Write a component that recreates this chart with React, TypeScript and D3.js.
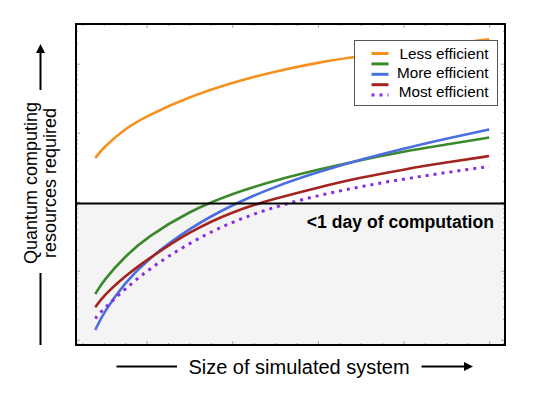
import React, { useEffect, useRef } from "react";
import * as d3 from "d3";

// size of simulated system (x) and resources required (log y)
const sizes = [8, 10, 15, 20, 30, 40, 50, 60, 70, 80, 90, 100];
const lessEfficient = [430, 621, 1151, 1746, 3325, 5340, 7762, 10400, 13010, 15640, 18850, 22650];
const greenVariant = [4.6, 7.3, 16.3, 30.3, 73.3, 131.5, 203.6, 291, 402, 535.6, 674.5, 851];
const moreEfficient = [1.38, 2.52, 6.75, 14.3, 41.6, 90.8, 166, 269, 409, 590, 824, 1112];
const redVariant = [2.95, 4.37, 8.38, 14.3, 37.0, 72.1, 111.3, 160.6, 224.3, 292.9, 370, 459];
const mostEfficient = [2.03, 2.83, 5.43, 10.07, 25.6, 51.6, 84.7, 123, 166, 213.3, 265, 324];

const seriesColors = ["#f5911f", "#3a8a2c", "#4a6ee0", "#a3231f", "#8a2be2"];
const legendLabels = ["Less efficient", "More efficient", "Most efficient"];
const oneDay = 94; // threshold: <1 day of computation

const xMajor = [20, 40, 60, 80, 100];
const yMajor = [1, 10, 100, 1000, 10000];

const font = "'Liberation Sans', Arial, Helvetica, sans-serif";

const App = () => {
    const ref = useRef<SVGSVGElement>(null);

    useEffect(() => {
        const width = 550;
        const height = 407;
        const left = 76, right = 505, top = 24, bottom = 345;

        const svg = d3.select(ref.current);
        svg.selectAll("*").remove();
        svg.attr("width", width).attr("height", height);

        const x = d3.scaleLinear().domain([3.5, 103.7]).range([left, right]);
        const y = d3.scaleLog().domain([0.838, 37600]).range([bottom, top]);

        svg.append("rect").attr("width", width).attr("height", height).attr("fill", "#fff");

        // shaded "< 1 day" area
        svg.append("rect")
            .attr("x", left)
            .attr("y", y(oneDay))
            .attr("width", right - left)
            .attr("height", bottom - y(oneDay))
            .attr("fill", "#f4f4f4");

        // ticks (inside the frame, no labels)
        const xMinor = d3.range(5, 104, 5).filter((v) => !xMajor.includes(v));
        const yMinor: number[] = [];
        [0.1, 1, 10, 100, 1000, 10000].forEach((d) => {
            for (let k = 2; k <= 9; k++) {
                const v = d * k;
                if (v > 0.838 && v < 37600) yMinor.push(v);
            }
        });

        const drawAxis = (axis: any, transform: string) => {
            const g = svg.append("g").attr("transform", transform).call(axis);
            g.select(".domain").remove();
            g.selectAll("line").attr("stroke", "#a8a8a8").attr("stroke-width", 1);
            g.selectAll("text").remove();
        };
        const noLabel = () => "";
        drawAxis(d3.axisBottom(x).tickValues(xMajor).tickSize(-4).tickFormat(noLabel), `translate(0,${bottom})`);
        drawAxis(d3.axisBottom(x).tickValues(xMinor).tickSize(-2).tickFormat(noLabel), `translate(0,${bottom})`);
        drawAxis(d3.axisTop(x).tickValues(xMajor).tickSize(-4).tickFormat(noLabel), `translate(0,${top})`);
        drawAxis(d3.axisTop(x).tickValues(xMinor).tickSize(-2).tickFormat(noLabel), `translate(0,${top})`);
        drawAxis(d3.axisLeft(y).tickValues(yMajor).tickSize(-4).tickFormat(noLabel), `translate(${left},0)`);
        drawAxis(d3.axisLeft(y).tickValues(yMinor).tickSize(-2).tickFormat(noLabel), `translate(${left},0)`);
        drawAxis(d3.axisRight(y).tickValues(yMajor).tickSize(-4).tickFormat(noLabel), `translate(${right},0)`);
        drawAxis(d3.axisRight(y).tickValues(yMinor).tickSize(-2).tickFormat(noLabel), `translate(${right},0)`);

        // curves
        const series = [lessEfficient, greenVariant, moreEfficient, redVariant, mostEfficient];
        const line = d3.line<number>()
            .x((_, i) => x(sizes[i]))
            .y((d) => y(d))
            .curve(d3.curveBasis);

        series.forEach((values, i) => {
            svg.append("path")
                .attr("d", line(values))
                .attr("fill", "none")
                .attr("stroke", seriesColors[i])
                .attr("stroke-width", i === 4 ? 3 : 2.6)
                .attr("stroke-dasharray", i === 4 ? "3 5" : null);
        });

        // threshold line
        svg.append("line")
            .attr("x1", left).attr("x2", right)
            .attr("y1", y(oneDay)).attr("y2", y(oneDay))
            .attr("stroke", "#000").attr("stroke-width", 2);

        svg.append("text")
            .attr("x", 494)
            .attr("y", y(oneDay) + 24)
            .attr("text-anchor", "end")
            .attr("font-family", font)
            .attr("font-weight", "bold")
            .attr("font-size", 17.6)
            .attr("fill", "#000")
            .text("<1 day of computation");

        // legend
        const legend = svg.append("g");
        legend.append("rect")
            .attr("x", 354.5).attr("y", 40.5)
            .attr("width", 143).attr("height", 65)
            .attr("fill", "#fff")
            .attr("stroke", "#555").attr("stroke-width", 1);
        seriesColors.forEach((c, i) => {
            const sy = 53.5 + i * 10.4;
            legend.append("line")
                .attr("x1", 371.5).attr("x2", 388.5)
                .attr("y1", sy).attr("y2", sy)
                .attr("stroke", c)
                .attr("stroke-width", 3)
                .attr("stroke-dasharray", i === 4 ? "3 5" : null);
        });
        legendLabels.forEach((t, i) => {
            legend.append("text")
                .attr("x", 488.5)
                .attr("y", 58.8 + i * 19.3)
                .attr("text-anchor", "end")
                .attr("font-family", font)
                .attr("font-size", 15.3)
                .attr("fill", "#000")
                .text(t);
        });

        // frame
        svg.append("rect")
            .attr("x", left).attr("y", top)
            .attr("width", right - left).attr("height", bottom - top)
            .attr("fill", "none")
            .attr("stroke", "#000").attr("stroke-width", 2);

        // x label with arrow
        svg.append("text")
            .attr("x", 299)
            .attr("y", 373.5)
            .attr("text-anchor", "middle")
            .attr("font-family", font)
            .attr("font-size", 20)
            .attr("fill", "#000")
            .text("Size of simulated system");
        svg.append("line")
            .attr("x1", 116.5).attr("x2", 177)
            .attr("y1", 366.5).attr("y2", 366.5)
            .attr("stroke", "#000").attr("stroke-width", 2);
        svg.append("line")
            .attr("x1", 421.5).attr("x2", 465)
            .attr("y1", 366.5).attr("y2", 366.5)
            .attr("stroke", "#000").attr("stroke-width", 2);
        svg.append("path")
            .attr("d", "M464,362 L473,366.5 L464,371 Z")
            .attr("fill", "#000");

        // y label with arrow
        const yl = svg.append("text")
            .attr("transform", "translate(0,183) rotate(-90)")
            .attr("text-anchor", "middle")
            .attr("font-family", font)
            .attr("font-size", 18)
            .attr("fill", "#000");
        yl.append("tspan").attr("x", 0).attr("y", 37).text("Quantum computing");
        yl.append("tspan").attr("x", 0).attr("y", 56).text("resources required");
        svg.append("line")
            .attr("x1", 40.5).attr("x2", 40.5)
            .attr("y1", 90).attr("y2", 52)
            .attr("stroke", "#000").attr("stroke-width", 2);
        svg.append("path")
            .attr("d", "M36,53 L40.5,44 L45,53 Z")
            .attr("fill", "#000");
        svg.append("line")
            .attr("x1", 40.5).attr("x2", 40.5)
            .attr("y1", 273).attr("y2", 345)
            .attr("stroke", "#000").attr("stroke-width", 2);
    }, []);

    return <svg ref={ref} style={{ position: "absolute", left: 0, top: 0 }} />;
};

export default App;
